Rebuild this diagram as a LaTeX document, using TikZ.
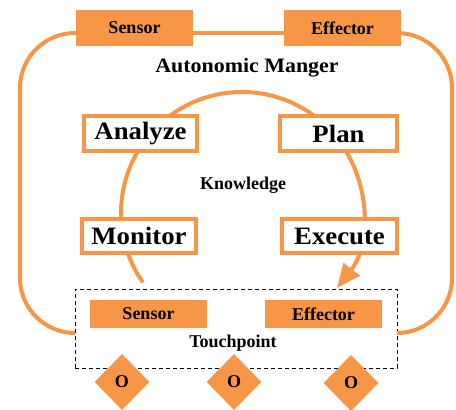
\documentclass[tikz,border=0pt]{standalone}
\usepackage{fontspec}
\setmainfont{Liberation Serif}
\newfontfamily\widefont{Liberation Serif}[FakeStretch=1.07]
\usetikzlibrary{shapes.geometric,arrows.meta}
\definecolor{amber}{RGB}{247,150,70}
\begin{document}
\begin{tikzpicture}[x=1pt,y=-1pt,
  loopline/.style={draw=amber,line width=4pt},
  fillbox/.style={fill=amber,inner sep=0pt,minimum width=117pt,font=\fontsize{18}{20}\selectfont\bfseries},
  phasebox/.style={draw=amber,line width=4pt,fill=white,inner sep=0pt,minimum height=35pt,font=\widefont\fontsize{25}{28}\selectfont\bfseries},
  plaintext/.style={inner sep=0pt,font=\fontsize{18}{20}\selectfont\bfseries},
  objshape/.style={diamond,fill=amber,inner sep=0pt,minimum width=55pt,minimum height=56pt,font=\fontsize{18}{20}\selectfont\bfseries}]
\useasboundingbox (0,0) rectangle (456,410);

% manager interface elements
\node[fillbox,minimum height=36pt] (sensorTop) at (134.5,28) {Sensor};
\node[fillbox,minimum height=36pt] (effTop) at (342.5,28) {Effector};

% touchpoint frame
\node[draw=black,dashed,dash pattern=on 4pt off 3pt,line width=0.8pt,minimum width=322pt,minimum height=79pt,inner sep=0pt] (touch) at (236,328.5) {};
\coordinate (lineY) at (0,33);
\coordinate (lowY) at (0,333);
\coordinate (leftX) at (20,0);
\coordinate (rightX) at (452,0);

% outer control loop
\draw[loopline,rounded corners=55pt] (sensorTop.west |- lineY) -- (leftX |- lineY) -- (leftX |- lowY) -- (touch.west |- lowY);
\draw[loopline,rounded corners=55pt] (effTop.east |- lineY) -- (rightX |- lineY) -- (rightX |- lowY) -- (touch.east |- lowY);
\draw[loopline] (sensorTop.east |- lineY) -- (effTop.west |- lineY);
\node[fillbox,minimum height=36pt] at (sensorTop) {Sensor};
\node[fillbox,minimum height=36pt] at (effTop) {Effector};

\node[plaintext,font=\widefont\fontsize{20.5}{22}\selectfont\bfseries] (title) at (247,68) {Autonomic Manger};

% MAPE cycle
\coordinate (hub) at (242,213);
\draw[loopline,-{Triangle[length=24pt,width=20pt]}] (hub) ++(215:121pt) arc[start angle=215,end angle=-38.3,radius=121pt];

\node[phasebox,minimum width=113pt] (analyze) at (140.5,133.5) {Analyze};
\node[phasebox,minimum width=117pt] (plan) at (338.5,133.5) {Plan};
\node[phasebox,minimum width=114pt,minimum height=34pt] (monitor) at (139,236) {Monitor};
\node[phasebox,minimum width=115pt,minimum height=34pt] (execute) at (339.5,236) {Execute};

\node[plaintext] (knowledge) at (243,185) {Knowledge};

% touchpoint contents
\node[fillbox,minimum height=28pt] (sensorLow) at (148.5,314) {Sensor};
\node[fillbox,minimum height=28pt] (effLow) at (323.5,314) {Effector};
\node[plaintext] (tpLabel) at (233,343) {Touchpoint};

% managed resources
\node[objshape] (o1) at (122,382) {O};
\node[objshape] (o2) at (234,382) {O};
\node[objshape] (o3) at (351,383) {O};
\end{tikzpicture}
\end{document}
